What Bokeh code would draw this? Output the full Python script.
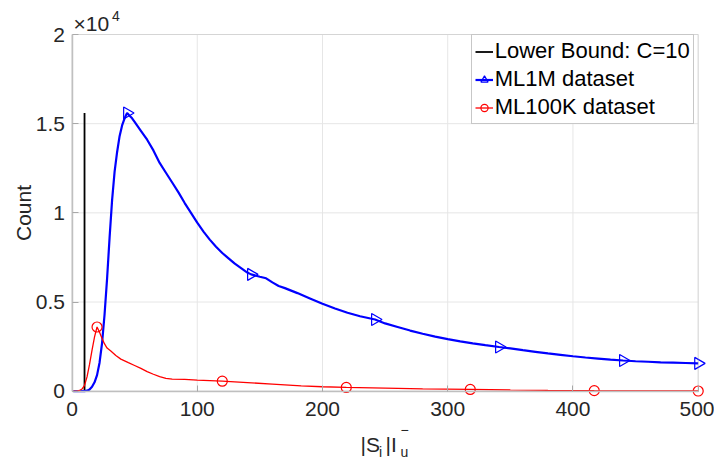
import numpy as np
from bokeh.plotting import figure
from bokeh.models import (Range1d, FixedTicker, Label, Legend, LegendItem, LinearAxis,
                          BoxAnnotation)
from bokeh.embed import file_html
from bokeh.resources import INLINE

# ---------------- data ----------------
lower_bound_c = 10

ml1m_x = [1, 5, 10, 12, 14, 16, 18, 20, 22, 24, 26, 28, 30, 32, 34, 36, 38, 40, 42, 44,
          46, 48, 50, 55, 60, 65, 70, 75, 80, 85, 90, 95, 100, 105, 110, 115, 120, 125,
          130, 135, 140, 143, 150, 155, 160, 165, 170, 175, 180, 190, 200, 210, 220, 230,
          242, 250, 260, 270, 280, 290, 300, 310, 320, 330, 341, 350, 360, 370, 380, 390,
          400, 410, 420, 430, 440, 450, 460, 470, 480, 490, 500]
ml1m_y = [0, 0, 0, 30, 100, 250, 500, 900, 1600, 2700, 4300, 6300, 8600, 10700, 12300,
          13400, 14300, 14900, 15300, 15600, 15450, 15300, 15100, 14600, 14100, 13500,
          12800, 12250, 11700, 11150, 10550, 10000, 9450, 8950, 8500, 8100, 7750, 7450,
          7150, 6900, 6650, 6550, 6420, 6330, 6100, 5900, 5780, 5640, 5500, 5200, 4900,
          4640, 4400, 4200, 4020, 3800, 3600, 3400, 3220, 3060, 2920, 2790, 2680, 2580,
          2480, 2400, 2300, 2210, 2120, 2040, 1960, 1890, 1830, 1770, 1720, 1680, 1650,
          1620, 1600, 1580, 1560]
ml1m_marker_x = [44, 143, 242, 341, 440, 500]

ml100k_x = [1, 4, 6, 8, 10, 12, 14, 16, 18, 20, 22, 24, 26, 28, 31, 35, 39, 45, 50, 55,
            60, 65, 70, 75, 80, 90, 100, 110, 120, 140, 160, 183, 200, 219, 250, 280,
            318, 350, 380, 417, 450, 480, 500]
ml100k_y = [0, 0, 40, 120, 330, 800, 1500, 2300, 3050, 3600, 3300, 2950, 2650, 2420,
            2250, 2000, 1800, 1600, 1440, 1280, 1100, 950, 820, 720, 680, 660, 620, 590,
            560, 480, 400, 300, 250, 210, 170, 130, 100, 70, 50, 30, 20, 15, 10]
ml100k_marker_x = [20, 120, 219, 318, 417, 500]

x_ticks = [0, 100, 200, 300, 400, 500]
y_ticks = [0, 5000, 10000, 15000, 20000]
y_tick_labels = ["0", "0.5", "1", "1.5", "2"]
legend_labels = ["Lower Bound: C=10", "ML1M dataset", "ML100K dataset"]

# ---------------- geometry: the frame fills the canvas ----------------
W, H = 714, 460
PX_L, PX_R = 71.5, 697.7      # pixel of x=0 and x=500
PY_B, PY_T = 390.7, 34.0      # pixel of y=0 and y=20000
XMIN, XMAX = x_ticks[0], x_ticks[-1]
YMIN, YMAX = y_ticks[0], y_ticks[-1]
sx = (PX_R - PX_L) / (XMAX - XMIN)
sy = (PY_B - PY_T) / (YMAX - YMIN)
x_range = Range1d(XMIN - PX_L / sx, XMAX + (W - PX_R) / sx)
y_range = Range1d(YMIN - (H - PY_B) / sy, YMAX + PY_T / sy)

FONT = "Liberation Sans"
TXT = "#262626"
AX = "#c4c4c4"

p = figure(width=W, height=H, output_backend="svg", toolbar_location=None,
           x_range=x_range, y_range=y_range, x_axis_type=None, y_axis_type=None,
           title=None, min_border=0)
p.background_fill_color = "white"
p.border_fill_color = "white"
p.outline_line_color = None
p.xgrid.visible = False
p.ygrid.visible = False

# grid lines (light gray) at the tick positions, inside the data box
p.segment(x0=x_ticks, y0=[YMIN] * len(x_ticks), x1=x_ticks, y1=[YMAX] * len(x_ticks),
          line_color="#e6e6e6", line_width=1)
p.segment(x0=[XMIN] * len(y_ticks), y0=y_ticks, x1=[XMAX] * len(y_ticks), y1=y_ticks,
          line_color="#e6e6e6", line_width=1)

# box around the data area
p.add_layout(BoxAnnotation(left=XMIN, right=XMAX, bottom=YMIN, top=YMAX,
                           fill_alpha=0, line_color="#b0b0b0", line_width=1))

# axes drawn at fixed data locations
xaxis = LinearAxis(fixed_location=YMIN, ticker=FixedTicker(ticks=x_ticks),
                   bounds=(XMIN, XMAX))
yaxis = LinearAxis(fixed_location=XMIN, ticker=FixedTicker(ticks=y_ticks),
                   bounds=(YMIN, YMAX))
yaxis.major_label_overrides = {t: l for t, l in zip(y_ticks, y_tick_labels)}
for ax in (xaxis, yaxis):
    ax.axis_line_color = AX
    ax.axis_line_width = 1.5
    ax.major_tick_line_color = "#a8a8a8"
    ax.major_tick_in = 6
    ax.major_tick_out = 0
    ax.minor_tick_line_color = None
    ax.major_label_text_font = FONT
    ax.major_label_text_font_size = "21px"
    ax.major_label_text_color = TXT
xaxis.major_label_standoff = 11
yaxis.major_label_standoff = 7
p.add_layout(xaxis, "below")
p.add_layout(yaxis, "left")

# ---------------- glyphs ----------------
r_lb = p.line([lower_bound_c, lower_bound_c], [0, max(ml1m_y)], line_color="black",
              line_width=1.8)

r_blue = p.line(ml1m_x, ml1m_y, line_color="#0000ff", line_width=2.2)
bm_y = [ml1m_y[ml1m_x.index(x)] for x in ml1m_marker_x]
r_blue_m = p.scatter(ml1m_marker_x, bm_y, marker="triangle", size=12, angle=-np.pi / 2,
                     line_color="#0000ff", fill_color=None, line_width=1.2)

r_red = p.line(ml100k_x, ml100k_y, line_color="#ff0000", line_width=1.3)
rm_y = [ml100k_y[ml100k_x.index(x)] for x in ml100k_marker_x]
r_red_m = p.scatter(ml100k_marker_x, rm_y, marker="circle", size=10,
                    line_color="#ff0000", fill_color=None, line_width=1.2)

legend = Legend(items=[
    LegendItem(label=legend_labels[0], renderers=[r_lb]),
    LegendItem(label=legend_labels[1], renderers=[r_blue, r_blue_m]),
    LegendItem(label=legend_labels[2], renderers=[r_red, r_red_m]),
], location=(470.7, H - 124.0))
legend.margin = 0
legend.padding = 3
legend.spacing = 2
legend.label_standoff = 2
legend.glyph_width = 18
legend.glyph_height = 25
legend.label_height = 25
legend.label_text_font = FONT
legend.label_text_font_size = "22px"
legend.label_text_color = "black"
legend.border_line_color = "#8f8f8f"
legend.border_line_width = 1
legend.background_fill_alpha = 1
p.add_layout(legend)

# ---------------- texts (canvas pixels; y is the vertical centre from the top) ----------------
def lab(text, x, y_mid, size, **kw):
    kw.setdefault("text_baseline", "middle")
    p.add_layout(Label(x=x, y=H - y_mid, x_units="screen", y_units="screen", text=text,
                       text_font=FONT, text_font_size=size, text_color=TXT, **kw))

# x axis label |S_i| I_u^-
lab("|S", 360, 443.7, "21px")
lab("i", 378.5, 451.5, "14px")
lab("|I", 385, 443.7, "21px")
lab("\u2212", 400, 429.5, "14px")
lab("u", 400, 451.5, "14px")

# y axis label
lab("Count", 23, 212.5, "21px", angle=np.pi / 2, text_align="center")

# exponent x10^4
lab("\u00d710", 73, 22.5, "21px")
lab("4", 111.5, 15.5, "14px")

open("out.html", "w").write(file_html(p, INLINE))
